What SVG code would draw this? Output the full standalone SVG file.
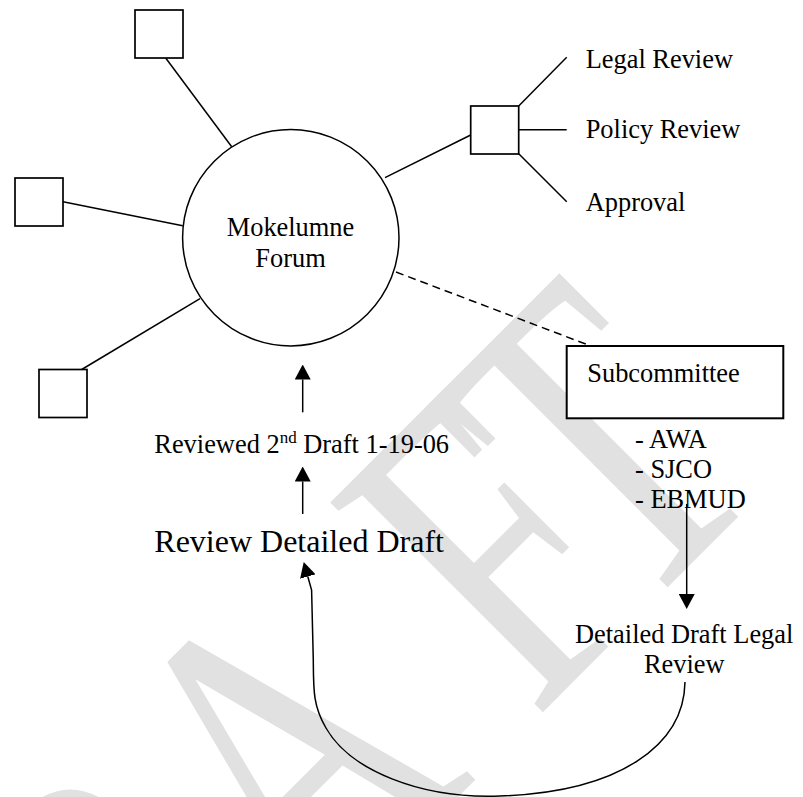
<svg xmlns="http://www.w3.org/2000/svg" width="803" height="797" viewBox="0 0 803 797">
<style>
.t{font-family:"Liberation Serif","Times New Roman",serif;font-size:26.4px;fill:#000}
.box{fill:#fff;stroke:#000;stroke-width:1.7}
.ln{fill:none;stroke:#000;stroke-width:1.5}
.wm{font-family:"Liberation Serif","Times New Roman",serif;font-size:456px;fill:#e1e1e1}
</style>
<defs>
<marker id="ah" viewBox="0 0 15 16" refX="0" refY="8" markerWidth="15" markerHeight="16" markerUnits="userSpaceOnUse" orient="auto">
<path d="M0,0 L15,8 L0,16 z" fill="#000"/>
</marker>
</defs>
<rect width="803" height="797" fill="#fff"/>
<g id="watermark">
<text class="wm" transform="translate(627.5,627.5) rotate(-45) scale(0.724,1)" x="-1256.6 -927.4 -623.2 -181.4 8.4" y="0">DRAFT</text>
</g>
<g id="connectors">
<line class="ln" x1="165.7" y1="58" x2="231.7" y2="146.7"/>
<line class="ln" x1="63" y1="201.7" x2="182.7" y2="225.7"/>
<line class="ln" x1="81.7" y1="369.5" x2="200" y2="298.7"/>
<line class="ln" x1="385" y1="177.7" x2="470.7" y2="135"/>
<line class="ln" x1="518.7" y1="106" x2="566.7" y2="57.3"/>
<line class="ln" x1="518.7" y1="129.7" x2="566.7" y2="129.7"/>
<line class="ln" x1="518.7" y1="153.7" x2="566.7" y2="201.7"/>
<line class="ln" x1="396" y1="272" x2="588.3" y2="345" stroke-dasharray="8 5"/>
<line class="ln" x1="302.7" y1="412.3" x2="302.7" y2="379.5" marker-end="url(#ah)"/>
<line class="ln" x1="302.7" y1="514" x2="302.7" y2="481.5" marker-end="url(#ah)"/>
<line class="ln" x1="686.7" y1="504" x2="686.7" y2="594" marker-end="url(#ah)"/>
<path class="ln" d="M685,682 C684,745 620,792 500,796 C420,799 350,770 326,728 C313,706 313.5,690 313.3,660 L311.6,590 L307.8,576.5" marker-end="url(#ah)"/>
</g>
<g id="forum">
<circle cx="290.8" cy="237.7" r="108.2" fill="none" stroke="#000" stroke-width="1.5"/>
<text class="t" x="290.5" y="236" text-anchor="middle">Mokelumne</text>
<text class="t" x="290.5" y="266.7" text-anchor="middle">Forum</text>
</g>
<g id="sq-top"><rect class="box" x="135" y="10" width="48" height="48"/></g>
<g id="sq-left"><rect class="box" x="15" y="178" width="48" height="48"/></g>
<g id="sq-bottom"><rect class="box" x="39" y="369.5" width="48" height="48"/></g>
<g id="sq-right"><rect class="box" x="470.7" y="106" width="48" height="48"/></g>
<g id="legal-review"><text class="t" x="585.7" y="68.3">Legal Review</text></g>
<g id="policy-review"><text class="t" x="585.7" y="138.3">Policy Review</text></g>
<g id="approval"><text class="t" x="585.7" y="211">Approval</text></g>
<g id="subcommittee">
<rect x="566.7" y="346" width="216.6" height="72.3" fill="#fff" stroke="#000" stroke-width="2"/>
<text class="t" x="587.3" y="381.7">Subcommittee</text>
</g>
<g id="members">
<text class="t" x="635" y="447.5">- AWA</text>
<text class="t" x="635" y="478">- SJCO</text>
<text class="t" x="635" y="508.3">- EBMUD</text>
</g>
<g id="reviewed-2nd">
<text class="t" x="154.3" y="452.7">Reviewed 2<tspan dy="-10" font-size="17">nd</tspan><tspan dy="10"> Draft 1-19-06</tspan></text>
</g>
<g id="review-detailed">
<text class="t" x="154.3" y="552.3" style="font-size:32px">Review Detailed Draft</text>
</g>
<g id="legal-review-draft">
<text class="t" x="684.2" y="643.3" text-anchor="middle">Detailed Draft Legal</text>
<text class="t" x="684.2" y="673.3" text-anchor="middle">Review</text>
</g>
</svg>
